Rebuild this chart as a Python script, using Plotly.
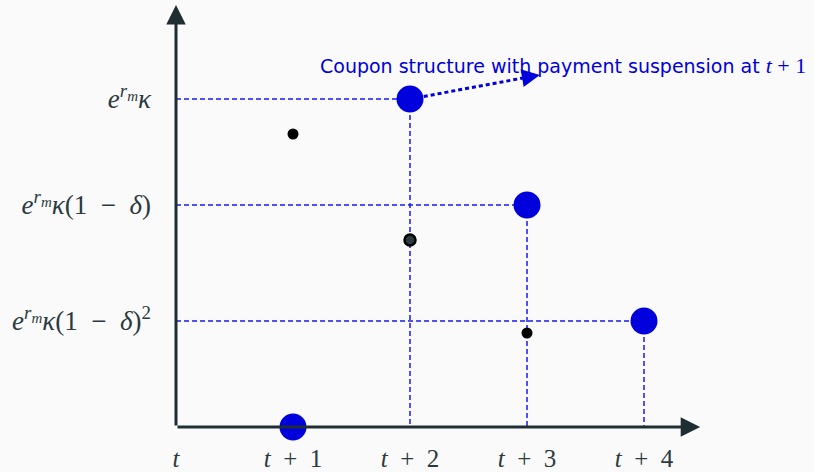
import plotly.graph_objects as go

# ---- data ----
EN = "\u2002"
periods = [0, 1, 2, 3, 4]
period_labels = ["<i>t</i>"] + [f"<i>t</i>{EN}+{EN}{k}" for k in [1, 2, 3, 4]]

coupon_times = [1, 2, 3, 4]            # blue dots (coupon with suspension)
coupon_values = [0.0, 3.28, 2.22, 1.06]

regular_times = [1, 2, 3]              # black dots (regular coupons)
regular_values = [2.93, 1.87, 0.94]

level_values = [3.28, 2.22, 1.06]
EXP = "<i>e</i><sup><i>r</i><sub><span style='font-size:15px'><i>m</i></span></sub></sup><i>κ</i>"
level_labels = [
    EXP,
    f"{EXP}(1{EN}−{EN}<i>δ</i>)",
    f"{EXP}(1{EN}−{EN}<i>δ</i>)<sup>2</sup>",
]

note_text = ("Coupon structure with payment suspension at "
             "<span style='font-family:Liberation Serif;font-size:22px'><i>t</i> + 1</span>")

# ---- style ----
BG = "#fafafa"
AXIS = "#1f2e33"
LABEL = "#2b3a3f"
BLUE = "#0000dd"
DASHBLUE = "#1a1aee"
SERIF = "Liberation Serif"

fig = go.Figure()

# dashed guide lines
for t, v in zip(coupon_times, coupon_values):
    if v > 0:
        fig.add_trace(go.Scatter(x=[0, t], y=[v, v], mode="lines",
                                 line=dict(color=DASHBLUE, width=1.5, dash="5px,3px"),
                                 hoverinfo="skip", showlegend=False, cliponaxis=False))
        fig.add_trace(go.Scatter(x=[t, t], y=[v, 0], mode="lines",
                                 line=dict(color=DASHBLUE, width=1.5, dash="5px,3px"),
                                 hoverinfo="skip", showlegend=False, cliponaxis=False))

# dotted pointer line from the t+2 coupon towards the note
arrow_start = (coupon_times[1], coupon_values[1])
arrow_tip = (3.11, 3.52)
fig.add_trace(go.Scatter(x=[arrow_start[0], 3.05], y=[arrow_start[1], 3.508], mode="lines",
                         line=dict(color=BLUE, width=3, dash="4px,3px"),
                         hoverinfo="skip", showlegend=False, cliponaxis=False))

# blue coupon dots
fig.add_trace(go.Scatter(x=coupon_times, y=coupon_values, mode="markers",
                         marker=dict(size=27, color=BLUE, line=dict(width=0)),
                         showlegend=False, cliponaxis=False))

# black regular dots
fig.add_trace(go.Scatter(x=regular_times, y=regular_values, mode="markers",
                         marker=dict(size=11, color=["#000000", "#2b3a3f", "#000000"],
                                     line=dict(width=[0, 2.5, 0], color="#000000")),
                         showlegend=False, cliponaxis=False))

annotations = [
    # x axis arrow
    dict(x=4.48, y=0, ax=0, ay=0, xref="x", yref="y", axref="x", ayref="y",
         showarrow=True, arrowhead=2, arrowsize=1.3, arrowwidth=3, arrowcolor=AXIS,
         text="", standoff=0),
    # y axis arrow
    dict(x=0, y=4.22, ax=0, ay=0, xref="x", yref="y", axref="x", ayref="y",
         showarrow=True, arrowhead=2, arrowsize=1.3, arrowwidth=3, arrowcolor=AXIS,
         text="", standoff=0),
    # pointer arrowhead
    dict(x=arrow_tip[0], y=arrow_tip[1], ax=3.02, ay=3.502, xref="x", yref="y",
         axref="x", ayref="y", showarrow=True, arrowhead=2, arrowsize=1.2,
         arrowwidth=3, arrowcolor=BLUE, text="", standoff=0),
    # note text
    dict(x=3.31, y=3.62, xref="x", yref="y", showarrow=False, text=note_text,
         font=dict(family="DejaVu Sans", size=19, color=BLUE),
         xanchor="center", yanchor="middle"),
]

fig.update_layout(
    width=814, height=472,
    margin=dict(l=170, r=0, t=0, b=40, autoexpand=False),
    paper_bgcolor=BG, plot_bgcolor=BG,
    showlegend=False,
    annotations=annotations,
    xaxis=dict(range=[-6 / 117, -6 / 117 + 644 / 117], showgrid=False, zeroline=False,
               showline=False, tickmode="array", tickvals=periods, ticktext=period_labels,
               ticks="", ticklabelstandoff=9, automargin=False,
               tickfont=dict(family=SERIF, size=25, color=LABEL)),
    yaxis=dict(range=[-0.05, 4.27], showgrid=False, zeroline=False, showline=False,
               tickmode="array", tickvals=level_values, ticktext=level_labels,
               ticks="", ticklabelstandoff=18, automargin=False,
               tickfont=dict(family=SERIF, size=27, color=LABEL)),
)

fig.write_html("out.html")
